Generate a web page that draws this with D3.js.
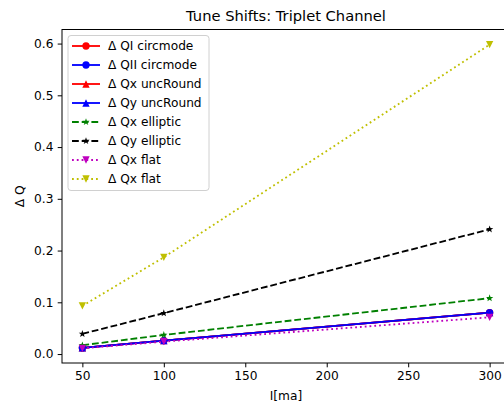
<!DOCTYPE html>
<html>
<head>
<meta charset="utf-8">
<script src="https://cdn.jsdelivr.net/npm/d3@7"></script>
<style>
  body { margin: 0; background: #fff; }
  svg { font-family: "DejaVu Sans", sans-serif; }
</style>
</head>
<body>
<div class="chart"></div>
<script>
/*------------------------------- data -------------------------------*/

const current = [50, 100, 300];

const qICircmode = [0.012, 0.026, 0.080];
const qIICircmode = [0.012, 0.026, 0.080];
const qxUncRound = [0.012, 0.026, 0.080];
const qyUncRound = [0.012, 0.026, 0.080];
const qxElliptic = [0.017, 0.037, 0.108];
const qyElliptic = [0.039, 0.079, 0.241];
const qxFlatM = [0.011, 0.024, 0.071];
const qxFlatY = [0.093, 0.187, 0.598];

const xTicks = [50, 100, 150, 200, 250, 300];
const yTicks = [0.0, 0.1, 0.2, 0.3, 0.4, 0.5, 0.6];

const seriesNames = ["Δ QI circmode", "Δ QII circmode", "Δ Qx uncRound", "Δ Qy uncRound",
    "Δ Qx elliptic", "Δ Qy elliptic", "Δ Qx flat", "Δ Qx flat"];

const series = [
    { name: seriesNames[0], values: qICircmode, color: "#ff0000", dash: null, marker: "circle" },
    { name: seriesNames[1], values: qIICircmode, color: "#0000ff", dash: null, marker: "circle" },
    { name: seriesNames[2], values: qxUncRound, color: "#ff0000", dash: null, marker: "up" },
    { name: seriesNames[3], values: qyUncRound, color: "#0000ff", dash: null, marker: "up" },
    { name: seriesNames[4], values: qxElliptic, color: "#008000", dash: "6.8,2.9", marker: "star" },
    { name: seriesNames[5], values: qyElliptic, color: "#000000", dash: "6.8,2.9", marker: "star" },
    { name: seriesNames[6], values: qxFlatM, color: "#bf00bf", dash: "1.8,3", marker: "down" },
    { name: seriesNames[7], values: qxFlatY, color: "#bfbf00", dash: "1.8,3", marker: "down" }
];

/*------------------------------- layout -------------------------------*/

const size = { width: 504, height: 404 };
const plot = { left: 62, right: 510, top: 29.5, bottom: 363 };
const fontSize = 12.2;

const svg = d3.select(".chart").append("svg")
    .attr("width", size.width)
    .attr("height", size.height);

svg.append("rect").attr("width", size.width).attr("height", size.height).attr("fill", "#fff");

const x = d3.scaleLinear().domain([37.5, 312.5]).range([plot.left, plot.right]);
const y = d3.scaleLinear().domain([-0.0173, 0.6272]).range([plot.bottom, plot.top]);

// marker shapes (matplotlib-like, size in px)
const ms = 7.3;
const markerPath = (type) => {
    const r = ms / 2;
    if (type === "circle") return d3.symbol(d3.symbolCircle, Math.PI * r * r)();
    if (type === "up") return `M0,${-r}L${r},${r}L${-r},${r}Z`;
    if (type === "down") return `M0,${r}L${r},${-r}L${-r},${-r}Z`;
    if (type === "star") {
        const pts = [];
        for (let i = 0; i < 10; i++) {
            const rr = i % 2 === 0 ? r * 1.05 : r * 0.42;
            const a = -Math.PI / 2 + i * Math.PI / 5;
            pts.push([rr * Math.cos(a), rr * Math.sin(a)]);
        }
        return "M" + pts.map(p => p.join(",")).join("L") + "Z";
    }
};

/*------------------------------- axes -------------------------------*/

const xAxis = svg.append("g")
    .attr("transform", `translate(0,${plot.bottom})`)
    .call(d3.axisBottom(x).tickValues(xTicks).tickSize(4.3).tickPadding(4.3));
const yAxis = svg.append("g")
    .attr("transform", `translate(${plot.left},0)`)
    .call(d3.axisLeft(y).tickValues(yTicks).tickFormat(d3.format(".1f")).tickSize(4.3).tickPadding(4.3));

[xAxis, yAxis].forEach(a => {
    a.select(".domain").remove();
    a.selectAll(".tick line").attr("stroke", "#000").attr("stroke-width", 1);
    a.selectAll(".tick text")
        .attr("fill", "#000")
        .style("font-size", fontSize + "px")
        .style("font-family", "DejaVu Sans");
});

// spines
svg.append("rect")
    .attr("x", plot.left).attr("y", plot.top)
    .attr("width", plot.right - plot.left).attr("height", plot.bottom - plot.top)
    .attr("fill", "none").attr("stroke", "#000").attr("stroke-width", 1);

/*------------------------------- lines -------------------------------*/

const line = d3.line().x(d => x(d[0])).y(d => y(d[1]));

series.forEach(s => {
    const pts = current.map((c, i) => [c, s.values[i]]);
    const g = svg.append("g");
    g.append("path")
        .attr("d", line(pts))
        .attr("fill", "none")
        .attr("stroke", s.color)
        .attr("stroke-width", 1.83)
        .attr("stroke-dasharray", s.dash);
    g.selectAll(".pt")
        .data(pts)
        .enter()
        .append("path")
        .attr("d", markerPath(s.marker))
        .attr("transform", d => `translate(${x(d[0])},${y(d[1])})`)
        .attr("fill", s.color);
});

/*------------------------------- title / labels -------------------------------*/

svg.append("text")
    .attr("x", (plot.left + plot.right) / 2)
    .attr("y", 21)
    .attr("text-anchor", "middle")
    .style("font-size", "14.7px")
    .text("Tune Shifts: Triplet Channel");

svg.append("text")
    .attr("x", (plot.left + plot.right) / 2)
    .attr("y", 400)
    .attr("text-anchor", "middle")
    .style("font-size", fontSize + "px")
    .text("I[ma]");

svg.append("text")
    .attr("transform", `translate(24,${(plot.top + plot.bottom) / 2}) rotate(-90)`)
    .attr("text-anchor", "middle")
    .style("font-size", fontSize + "px")
    .text("Δ Q");

/*------------------------------- legend -------------------------------*/

const legend = svg.append("g");
legend.append("rect")
    .attr("x", 68).attr("y", 35.5)
    .attr("width", 141).attr("height", 155)
    .attr("rx", 3)
    .attr("fill", "#fff").attr("fill-opacity", 0.8)
    .attr("stroke", "#d0d0d0").attr("stroke-width", 1);

const legendRow = d3.scaleLinear().domain([0, 7]).range([46, 179]);

const legendGroup = legend.selectAll(".legend-item")
    .data(series)
    .enter()
    .append("g")
    .attr("transform", (d, i) => `translate(0,${legendRow(i)})`);

legendGroup.append("line")
    .attr("x1", 72).attr("x2", 100)
    .attr("stroke", d => d.color)
    .attr("stroke-width", 1.83)
    .attr("stroke-dasharray", d => d.dash);
legendGroup.append("path")
    .attr("d", d => markerPath(d.marker))
    .attr("transform", "translate(86,0)")
    .attr("fill", d => d.color);
legendGroup.append("text")
    .attr("x", 108)
    .attr("y", 4.4)
    .style("font-size", fontSize + "px")
    .text(d => d.name);
</script>
</body>
</html>
